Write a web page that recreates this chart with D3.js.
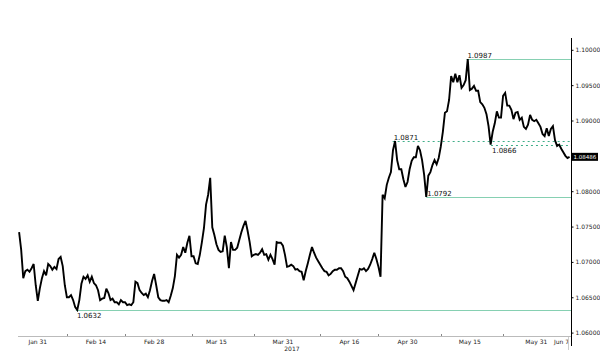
<!DOCTYPE html>
<html>
<head>
<meta charset="utf-8">
<script src="https://cdn.jsdelivr.net/npm/d3@7"></script>
<style>
  html, body { margin: 0; padding: 0; background: #fff; }
  svg { display: block; }
  text { font-family: "DejaVu Sans", Verdana, sans-serif; }
</style>
</head>
<body>
<svg id="chart" width="600" height="364"></svg>
<script>
// ---- data ----
const startTime = "2017-01-26T12:00:00Z";
const stepHours = 12;
const prices = [
1.0742,1.0717,1.0677,1.0687,1.0689,1.0686,1.0691,1.0697,1.0667,1.0645,
1.0663,1.0677,1.0687,1.0681,1.0697,1.0694,1.0689,1.0693,1.0690,1.0704,
1.0707,1.0694,1.0667,1.0650,1.0650,1.0653,1.0646,1.0636,1.0632,1.0646,
1.0669,1.0679,1.0676,1.0681,1.0672,1.0679,1.0670,1.0667,1.0660,1.0646,
1.0648,1.0649,1.0662,1.0656,1.0646,1.0648,1.0643,1.0643,1.0640,1.0646,
1.0643,1.0643,1.0639,1.0640,1.0639,1.0643,1.0672,1.0670,1.0660,1.0656,
1.0653,1.0655,1.0650,1.0660,1.0673,1.0683,1.0667,1.0650,1.0646,1.0645,
1.0645,1.0646,1.0643,1.0652,1.0663,1.0680,1.0710,1.0706,1.0710,1.0721,
1.0713,1.0727,1.0737,1.0708,1.0708,1.0698,1.0697,1.0710,1.0728,1.0748,
1.0781,1.0795,1.0819,1.0749,1.0738,1.0725,1.0717,1.0714,1.0715,1.0737,
1.0721,1.0691,1.0728,1.0717,1.0717,1.0720,1.0731,1.0742,1.0751,1.0758,
1.0744,1.0728,1.0708,1.0710,1.0711,1.0710,1.0713,1.0718,1.0710,1.0711,
1.0703,1.0710,1.0704,1.0696,1.0728,1.0727,1.0727,1.0723,1.0710,1.0693,
1.0694,1.0696,1.0694,1.0689,1.0690,1.0687,1.0686,1.0674,1.0687,1.0698,
1.0710,1.0721,1.0713,1.0706,1.0701,1.0696,1.0691,1.0687,1.0686,1.0681,
1.0683,1.0687,1.0689,1.0689,1.0691,1.0691,1.0687,1.0679,1.0677,1.0672,
1.0666,1.0660,1.0670,1.0680,1.0690,1.0689,1.0691,1.0687,1.0690,1.0696,
1.0704,1.0713,1.0704,1.0693,1.0679,1.0795,1.0790,1.0809,1.0819,1.0827,
1.0858,1.0871,1.0844,1.0831,1.0831,1.0817,1.0806,1.0813,1.0831,1.0843,
1.0848,1.0848,1.0864,1.0858,1.0844,1.0823,1.0792,1.0822,1.0827,1.0837,
1.0844,1.0838,1.0847,1.0863,1.0884,1.0911,1.0913,1.0929,1.0963,1.0954,
1.0966,1.0954,1.0964,1.0946,1.0950,1.0957,1.0987,1.0943,1.0945,1.0949,
1.0942,1.0942,1.0926,1.0923,1.0918,1.0909,1.0892,1.0866,1.0884,1.0896,
1.0913,1.0904,1.0904,1.0935,1.0939,1.0921,1.0921,1.0915,1.0902,1.0911,
1.0912,1.0901,1.0904,1.0891,1.0888,1.0894,1.0908,1.0901,1.0899,1.0901,
1.0896,1.0891,1.0881,1.0878,1.0889,1.0878,1.0888,1.0892,1.0872,1.0864,
1.0866,1.0860,1.0855,1.0850,1.0847,1.08486
];
const lastPrice = 1.08486;
// 1.08500 is hidden behind the last-price tag in the reference
const yTicks = [1.06, 1.065, 1.07, 1.075, 1.08, 1.09, 1.095, 1.10];
const xLabelDates = ["2017-01-31","2017-02-14","2017-02-28","2017-03-15","2017-03-31","2017-04-16","2017-04-30","2017-05-15","2017-05-31","2017-06-07"];
const xLabelTexts = ["Jan 31","Feb 14","Feb 28","Mar 15","Mar 31","Apr 16","Apr 30","May 15","May 31","Jun 7"];
const xMinorTickDates = ["2017-02-07","2017-02-21","2017-03-09","2017-03-24","2017-04-09","2017-04-23","2017-05-08","2017-05-23"];
const yearLabel = "2017";
// horizontal reference levels
const levelValues = [1.0987, 1.0792, 1.0632, 1.0871, 1.0866];
const levelStarts = ["2017-05-14T04:00Z","2017-05-04T12:00Z","2017-02-09T04:00Z","2017-04-26T10:00Z","2017-05-20T02:00Z"];
const levelDashed = [false, false, false, true, true];
const levelLabelBelow = [false, false, true, false, true];

// ---- layout ----
const svg = d3.select("#chart");
const axisX = 571.5;
const bottomY = 336;
const font = "'Liberation Sans', Arial, sans-serif";

const x = d3.scaleUtc()
  .domain([new Date("2017-01-31T00:00Z"), new Date("2017-06-07T00:00Z")])
  .range([37.8, 565.4]);
const y = d3.scaleLinear().domain([1.06, 1.10]).range([332.6, 49.8]);

const t0 = new Date(startTime).getTime();
const series = prices.map((v, i) => ({ t: new Date(t0 + i * stepHours * 3600e3), v }));

// reference lines
const solidColor = "#86d0b2";
const dashColor = "#3fae88";
levelValues.forEach((v, k) => {
  const yy = Math.round(y(v)) + 0.5;
  const x0 = x(new Date(levelStarts[k]));
  svg.append("line")
    .attr("x1", x0).attr("x2", axisX).attr("y1", yy).attr("y2", yy)
    .attr("stroke", levelDashed[k] ? dashColor : solidColor)
    .attr("stroke-width", 1)
    .attr("stroke-dasharray", levelDashed[k] ? "2,3" : null);
  svg.append("text")
    .attr("x", x0 + 1)
    .attr("y", levelLabelBelow[k] ? yy + 7 : yy - 2)
    .attr("font-size", 7)
    .attr("font-family", font)
    .attr("fill", "#111")
    .text(v.toFixed(4));
});

// bottom axis line
svg.append("line").attr("x1", 18).attr("x2", axisX).attr("y1", bottomY + 0.5).attr("y2", bottomY + 0.5)
  .attr("stroke", "#bbb").attr("stroke-width", 1);
svg.selectAll(".minor").data(xMinorTickDates).join("line")
  .attr("x1", d => Math.round(x(new Date(d + "T00:00Z"))) + 0.5)
  .attr("x2", d => Math.round(x(new Date(d + "T00:00Z"))) + 0.5)
  .attr("y1", bottomY - 2).attr("y2", bottomY)
  .attr("stroke", "#888");
svg.selectAll(".xlab").data(xLabelDates).join("text")
  .attr("x", (d, i) => i === xLabelDates.length - 1 ? 569 : x(new Date(d + "T00:00Z")))
  .attr("y", 344)
  .attr("text-anchor", (d, i) => i === xLabelDates.length - 1 ? "end" : "middle")
  .attr("font-size", 6)
  .attr("font-family", font)
  .attr("fill", "#222")
  .text((d, i) => xLabelTexts[i]);
svg.append("text")
  .attr("x", x(new Date("2017-03-31T00:00Z")) + 9)
  .attr("y", 350.5)
  .attr("text-anchor", "middle")
  .attr("font-size", 6)
  .attr("font-family", font)
  .attr("fill", "#222")
  .text(yearLabel);
svg.append("line").attr("x1", 568.5).attr("x2", 568.5).attr("y1", bottomY + 1).attr("y2", 350)
  .attr("stroke", "#ccc");

// price line
const line = d3.line().x(d => x(d.t)).y(d => y(d.v));
svg.append("path").datum(series)
  .attr("d", line)
  .attr("fill", "none")
  .attr("stroke", "#000")
  .attr("stroke-width", 1.9)
  .attr("stroke-linejoin", "miter")
  .attr("stroke-miterlimit", 3);

// right axis
const axisG = svg.append("g").attr("transform", `translate(${axisX},0)`);
axisG.append("line").attr("x1", 0).attr("x2", 0).attr("y1", 38).attr("y2", 346)
  .attr("stroke", "#000").attr("stroke-width", 1);
const yAxis = d3.axisRight(y).tickValues(yTicks).tickSize(2).tickPadding(2).tickFormat(d3.format(".5f"));
const ya = axisG.append("g").call(yAxis);
ya.select(".domain").remove();
ya.selectAll("text").attr("font-size", 6).attr("fill", "#222").attr("font-family", font);
ya.selectAll("line").attr("stroke", "#000");

// last price tag
const py = y(lastPrice);
svg.append("rect").attr("x", axisX + 0.5).attr("y", py - 4).attr("width", 26).attr("height", 8).attr("fill", "#000");
svg.append("text").attr("x", axisX + 2).attr("y", py + 2).attr("font-size", 5.5)
  .attr("font-family", font).attr("fill", "#fff")
  .text(d3.format(".5f")(lastPrice));
</script>
</body>
</html>
